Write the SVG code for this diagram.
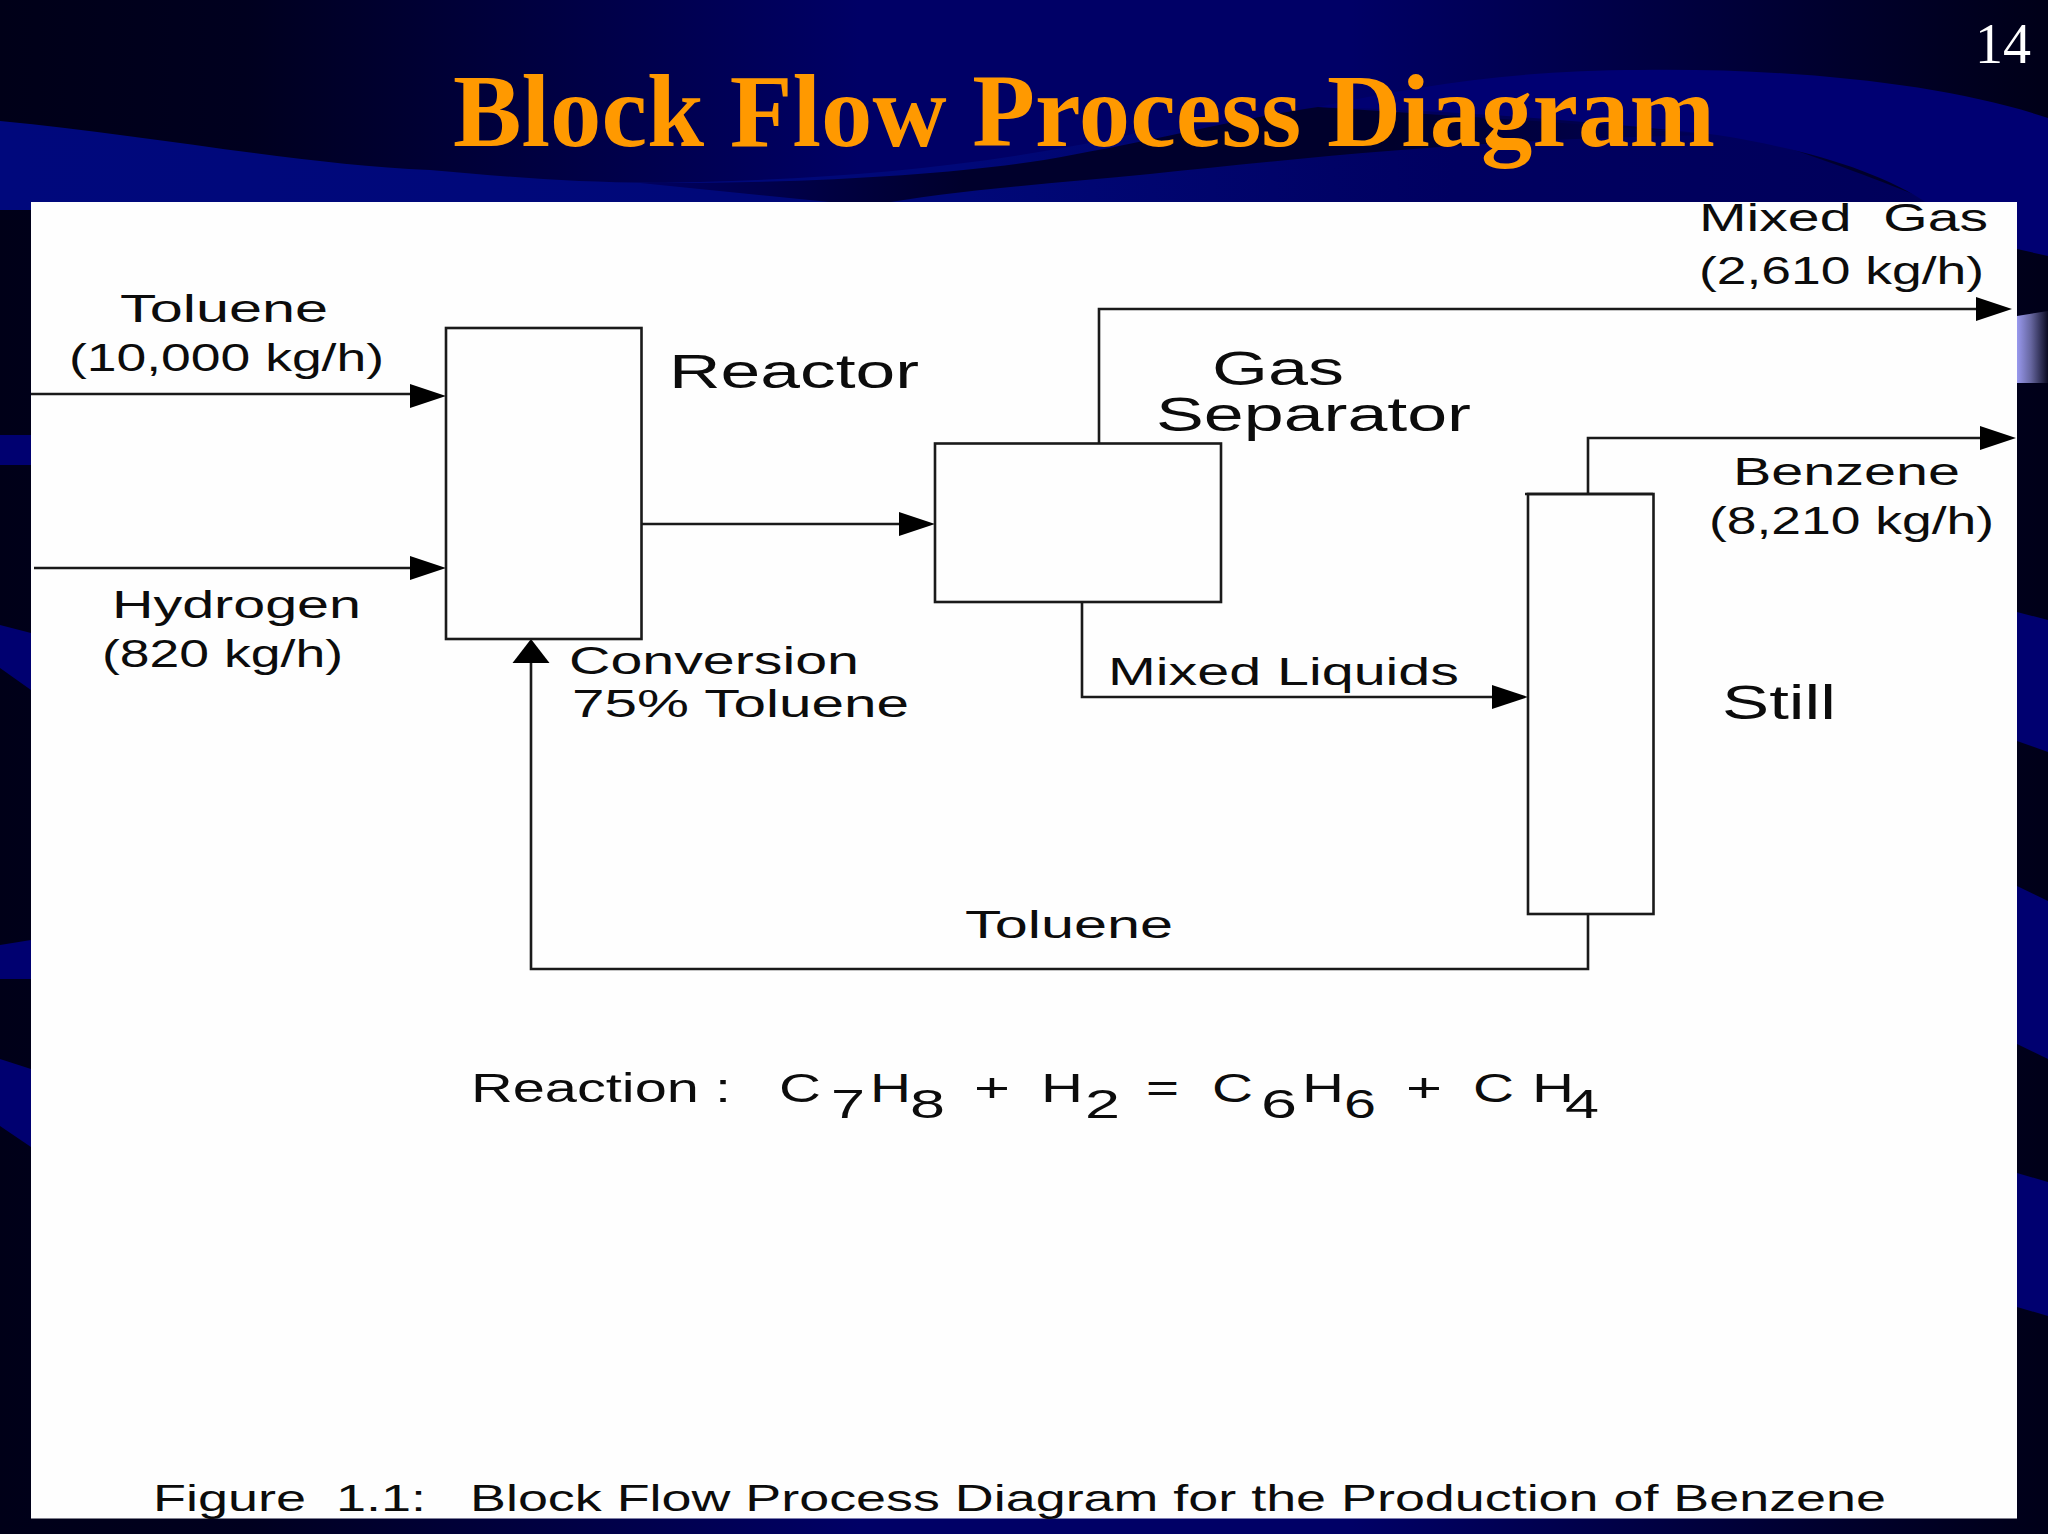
<svg xmlns="http://www.w3.org/2000/svg" width="2048" height="1534" viewBox="0 0 2048 1534">
<style>
.t{font-family:"Liberation Sans",Arial,sans-serif;fill:#0c0c0c;white-space:pre}
.s{font-size:38px}.m{font-size:40px}.l{font-size:48px}
.box{fill:none;stroke:#1a1a1a;stroke-width:2.6}
.wire{fill:none;stroke:#1a1a1a;stroke-width:2.6}
.arrow{marker-end:url(#ah)}
.band{fill:#000070}
</style>
<defs>
<linearGradient id="bg" x1="0" x2="1" y1="0" y2="0"><stop offset="0" stop-color="#000018"/><stop offset=".12" stop-color="#00001f"/><stop offset=".42" stop-color="#000066"/><stop offset=".66" stop-color="#000066"/><stop offset=".9" stop-color="#00002c"/><stop offset="1" stop-color="#000018"/></linearGradient>
<linearGradient id="lobe" x1="0" x2="1" y1="0" y2="0"><stop offset="0" stop-color="#00087c"/><stop offset=".5" stop-color="#000878"/><stop offset=".75" stop-color="#000060"/><stop offset="1" stop-color="#00005a"/></linearGradient>
<linearGradient id="peri" x1="0" x2="1" y1="0" y2="0"><stop offset="0" stop-color="#9999ee"/><stop offset=".45" stop-color="#66669f"/><stop offset="1" stop-color="#0a0a22"/></linearGradient>
<linearGradient id="dark" x1="0" x2="1" y1="0" y2="0"><stop offset="0" stop-color="#000060"/><stop offset=".3" stop-color="#00002c"/><stop offset=".7" stop-color="#00002c"/><stop offset="1" stop-color="#000058"/></linearGradient>
<marker id="ah" markerUnits="userSpaceOnUse" markerWidth="40" markerHeight="28" refX="30" refY="12" orient="auto"><path d="M0 0L36 12L0 24Z" fill="#000"/></marker>
</defs>
<g id="background">
<rect width="2048" height="1534" fill="url(#bg)"/>
<path d="M0 121C150 135 300 165 430 170C520 178 600 185 700 182C850 178 1000 165 1150 130L1730 130C1800 150 1880 180 1940 205V210H0Z" fill="url(#lobe)"/>
<path d="M640 183C800 184 950 175 1044 160C1150 142 1240 118 1318 107L1550 122L1717 135C1500 138 1320 156 1150 174C1050 184 950 190 869 206Z" fill="url(#dark)"/>
<path d="M1318 107C1420 85 1520 70 1640 70C1800 68 1950 85 2048 118L2048 256L2017 249L1930 205C1880 170 1800 148 1717 135C1600 122 1450 110 1318 107Z" fill="#000072"/>
<path class="band" d="M0 435H31V465H0Z"/>
<path class="band" d="M0 625L31 633V690L0 668Z"/>
<path class="band" d="M0 945L31 940V979H0Z"/>
<path class="band" d="M0 1059L31 1069V1147L0 1126Z"/>
<path d="M2017 316L2048 311V383L2017 383Z" fill="url(#peri)"/>
<path class="band" d="M2017 612L2048 620V752L2017 741Z"/>
<path class="band" d="M2017 886L2048 901V1059L2017 1044Z"/>
<path class="band" d="M2017 1173L2048 1182V1316L2017 1307Z"/>
<rect x="31" y="202" width="1986" height="1316.500" fill="#fefefe"/>
</g>
<text id="title" x="453" y="146" font-family="Liberation Serif,Times New Roman,serif" font-weight="700" font-size="104" fill="#ff9900" textLength="1262" lengthAdjust="spacingAndGlyphs">Block Flow Process Diagram</text>
<text id="page" x="1975" y="63" font-family="Liberation Serif,Times New Roman,serif" font-size="56" fill="#fff">14</text>
<g id="connectors">
<path class="wire" d="M31 394H416"/>
<path d="M410 384L446 396L410 408Z" fill="#000"/>
<path class="wire arrow" d="M34 568H440"/>
<path class="wire arrow" d="M641 524H929"/>
<path class="wire arrow" d="M1099 443V309H2006"/>
<path class="wire arrow" d="M1588 494V438H2010"/>
<path class="wire arrow" d="M1082 602V697H1522"/>
<path class="wire" d="M1588 914V969H531V655"/>
<path d="M531 639L549.500 663H512.500Z" fill="#000"/>
</g>
<g id="reactor"><rect class="box" x="446" y="328" width="195.500" height="311"/>
<text class="t l" x="669" y="388" textLength="250" lengthAdjust="spacingAndGlyphs">Reactor</text></g>
<g id="gas-separator"><rect class="box" x="935" y="443.500" width="286" height="158.500"/>
<text class="t l" x="1212" y="385" textLength="132" lengthAdjust="spacingAndGlyphs">Gas</text>
<text class="t l" x="1156" y="431" textLength="315" lengthAdjust="spacingAndGlyphs">Separator</text></g>
<g id="still"><rect class="box" x="1528" y="494" width="125.500" height="420"/><path class="box" d="M1525 494H1653"/>
<text class="t" font-size="49" x="1722" y="719" textLength="114" lengthAdjust="spacingAndGlyphs">Still</text></g>
<g id="labels">
<text class="t s" x="120" y="322" textLength="208" lengthAdjust="spacingAndGlyphs">Toluene</text>
<text class="t s" x="69" y="371" textLength="315" lengthAdjust="spacingAndGlyphs">(10,000 kg/h)</text>
<text class="t s" x="112" y="618" textLength="249" lengthAdjust="spacingAndGlyphs">Hydrogen</text>
<text class="t s" x="102" y="667" textLength="241" lengthAdjust="spacingAndGlyphs">(820 kg/h)</text>
<text class="t s" x="569" y="674" textLength="290" lengthAdjust="spacingAndGlyphs">Conversion</text>
<text class="t s" x="572" y="717" textLength="337" lengthAdjust="spacingAndGlyphs">75% Toluene</text>
<text class="t s" x="1699" y="231" textLength="289" lengthAdjust="spacingAndGlyphs">Mixed  Gas</text>
<text class="t s" x="1699" y="284" textLength="285" lengthAdjust="spacingAndGlyphs">(2,610 kg/h)</text>
<text class="t s" x="1733" y="485" textLength="227" lengthAdjust="spacingAndGlyphs">Benzene</text>
<text class="t s" x="1709" y="534" textLength="285" lengthAdjust="spacingAndGlyphs">(8,210 kg/h)</text>
<text class="t s" x="1108" y="685" textLength="351" lengthAdjust="spacingAndGlyphs">Mixed Liquids</text>
<text class="t s" x="965" y="938" textLength="208" lengthAdjust="spacingAndGlyphs">Toluene</text>
</g>
<text id="reaction" class="t m"><tspan x="471" y="1102" textLength="260" lengthAdjust="spacingAndGlyphs">Reaction :</tspan><tspan x="779" y="1102" textLength="42" lengthAdjust="spacingAndGlyphs">C</tspan><tspan x="831" y="1118" textLength="34" lengthAdjust="spacingAndGlyphs">7</tspan><tspan x="870" y="1102" textLength="41" lengthAdjust="spacingAndGlyphs">H</tspan><tspan x="910" y="1118" textLength="35" lengthAdjust="spacingAndGlyphs">8</tspan><tspan x="974" y="1102" textLength="36" lengthAdjust="spacingAndGlyphs">+</tspan><tspan x="1041" y="1102" textLength="42" lengthAdjust="spacingAndGlyphs">H</tspan><tspan x="1085" y="1118" textLength="35" lengthAdjust="spacingAndGlyphs">2</tspan><tspan x="1146" y="1102" textLength="33" lengthAdjust="spacingAndGlyphs">=</tspan><tspan x="1212" y="1102" textLength="41" lengthAdjust="spacingAndGlyphs">C</tspan><tspan x="1261" y="1118" textLength="36" lengthAdjust="spacingAndGlyphs">6</tspan><tspan x="1302" y="1102" textLength="42" lengthAdjust="spacingAndGlyphs">H</tspan><tspan x="1344" y="1118" textLength="32" lengthAdjust="spacingAndGlyphs">6</tspan><tspan x="1406" y="1102" textLength="36" lengthAdjust="spacingAndGlyphs">+</tspan><tspan x="1473" y="1102" textLength="41" lengthAdjust="spacingAndGlyphs">C</tspan><tspan x="1532" y="1102" textLength="42" lengthAdjust="spacingAndGlyphs">H</tspan><tspan x="1565" y="1118" textLength="34" lengthAdjust="spacingAndGlyphs">4</tspan></text>
<text id="caption" class="t" font-size="36"><tspan x="153" y="1511" textLength="273" lengthAdjust="spacingAndGlyphs">Figure  1.1:</tspan><tspan x="470" y="1511" textLength="1416" lengthAdjust="spacingAndGlyphs">Block Flow Process Diagram for the Production of Benzene</tspan></text>
</svg>
